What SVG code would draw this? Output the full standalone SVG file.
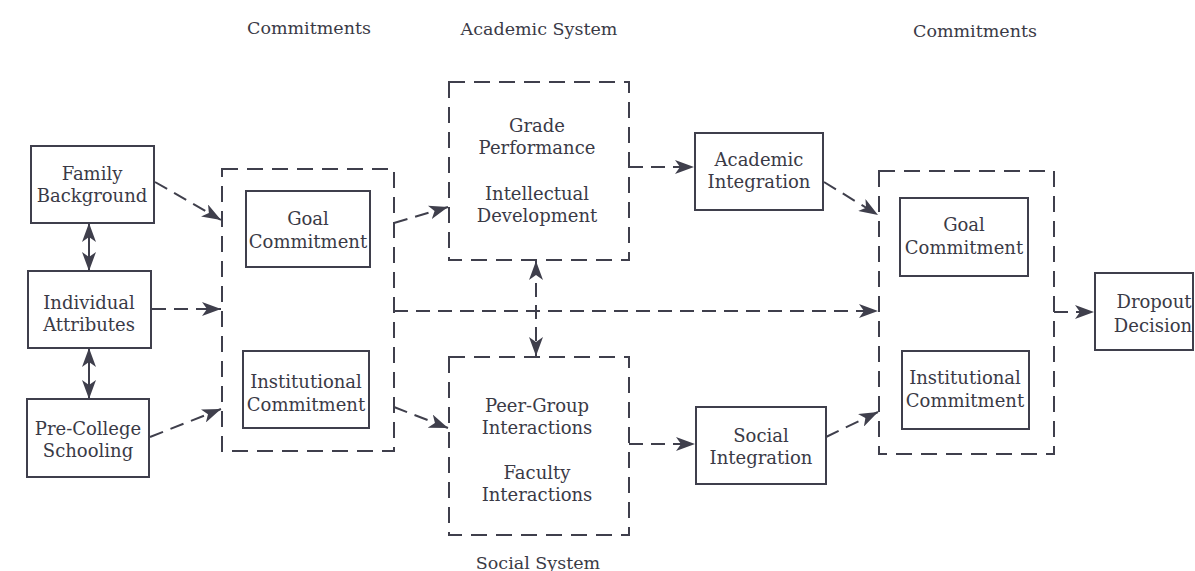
<svg xmlns="http://www.w3.org/2000/svg" width="1195" height="571" viewBox="0 0 1195 571">
<style>
.box{fill:none;stroke:#3f3f4c;stroke-width:2}
.dbox{fill:none;stroke:#3f3f4c;stroke-width:2;stroke-dasharray:16 9}
.con{fill:none;stroke:#3f3f4c;stroke-width:2;stroke-dasharray:14 8}
.sol{fill:none;stroke:#3f3f4c;stroke-width:2}
text{font-family:"DejaVu Serif","Liberation Serif",serif;font-size:18px;fill:#3a3a46;text-anchor:middle;dominant-baseline:central}
.hdr{font-size:17.5px}
</style>
<defs>
<marker id="ah" markerUnits="userSpaceOnUse" markerWidth="20" markerHeight="14" refX="19" refY="7" orient="auto-start-reverse">
<path d="M0,0 L19,7 L0,14 L5,7 Z" fill="#3f3f4c"/>
</marker>
</defs>
<rect width="1195" height="571" fill="#ffffff"/>

<text class="hdr" x="309" y="28">Commitments</text>
<text class="hdr" x="539" y="29">Academic System</text>
<text class="hdr" x="975" y="31">Commitments</text>
<text class="hdr" x="538" y="563">Social System</text>

<g id="family-background">
<rect class="box" x="31" y="146" width="123" height="77"/>
<text x="92" y="173">Family</text>
<text x="92" y="195">Background</text>
</g>
<g id="individual-attributes">
<rect class="box" x="28" y="271" width="123" height="77"/>
<text x="89" y="302">Individual</text>
<text x="89" y="324">Attributes</text>
</g>
<g id="pre-college-schooling">
<rect class="box" x="27" y="399" width="122" height="78"/>
<text x="88" y="428">Pre-College</text>
<text x="88" y="450">Schooling</text>
</g>

<g id="commitments-left">
<rect class="dbox" x="222" y="169" width="172" height="282"/>
</g>
<g id="goal-commitment-left">
<rect class="box" x="246" y="191" width="124" height="76"/>
<text x="308" y="218">Goal</text>
<text x="308" y="241">Commitment</text>
</g>
<g id="institutional-commitment-left">
<rect class="box" x="243" y="351" width="126" height="77"/>
<text x="306" y="381">Institutional</text>
<text x="306" y="404">Commitment</text>
</g>

<g id="academic-system">
<rect class="dbox" x="449" y="82" width="180" height="178"/>
<text x="537" y="125">Grade</text>
<text x="537" y="147">Performance</text>
<text x="537" y="193">Intellectual</text>
<text x="537" y="215">Development</text>
</g>
<g id="social-system">
<rect class="dbox" x="449" y="357" width="180" height="178"/>
<text x="537" y="405">Peer-Group</text>
<text x="537" y="427">Interactions</text>
<text x="537" y="472">Faculty</text>
<text x="537" y="494">Interactions</text>
</g>

<g id="academic-integration">
<rect class="box" x="695" y="133" width="128" height="77"/>
<text x="759" y="159">Academic</text>
<text x="759" y="181">Integration</text>
</g>
<g id="social-integration">
<rect class="box" x="696" y="407" width="130" height="77"/>
<text x="761" y="435">Social</text>
<text x="761" y="457">Integration</text>
</g>

<g id="commitments-right">
<rect class="dbox" x="879" y="171" width="175" height="283"/>
</g>
<g id="goal-commitment-right">
<rect class="box" x="900" y="198" width="128" height="78"/>
<text x="964" y="224">Goal</text>
<text x="964" y="247">Commitment</text>
</g>
<g id="institutional-commitment-right">
<rect class="box" x="902" y="351" width="127" height="78"/>
<text x="965" y="377">Institutional</text>
<text x="965" y="400">Commitment</text>
</g>

<g id="dropout-decision">
<rect class="box" x="1095" y="273" width="98" height="77"/>
<text x="1154" y="301">Dropout</text>
<text x="1153" y="325">Decision</text>
</g>

<g id="connectors">
<line class="sol" x1="89" y1="223" x2="89" y2="271" marker-start="url(#ah)" marker-end="url(#ah)"/>
<line class="sol" x1="89" y1="348" x2="89" y2="399" marker-start="url(#ah)" marker-end="url(#ah)"/>
<line class="con" x1="155" y1="182" x2="221" y2="220" marker-end="url(#ah)"/>
<line class="con" x1="152" y1="309" x2="221" y2="309" marker-end="url(#ah)"/>
<line class="con" x1="150" y1="437" x2="221" y2="409" marker-end="url(#ah)"/>
<line class="con" x1="394" y1="223" x2="448" y2="207" marker-end="url(#ah)"/>
<line class="con" x1="394" y1="407" x2="448" y2="428" marker-end="url(#ah)"/>
<line class="con" x1="394" y1="311" x2="878" y2="311" marker-end="url(#ah)"/>
<line class="con" x1="536" y1="261" x2="536" y2="356" marker-start="url(#ah)" marker-end="url(#ah)"/>
<line class="con" x1="629" y1="167" x2="694" y2="167" marker-end="url(#ah)"/>
<line class="con" x1="629" y1="444" x2="695" y2="444" marker-end="url(#ah)"/>
<line class="con" x1="824" y1="182" x2="878" y2="215" marker-end="url(#ah)"/>
<line class="con" x1="826" y1="437" x2="878" y2="412" marker-end="url(#ah)"/>
<line class="con" x1="1054" y1="312" x2="1094" y2="312" marker-end="url(#ah)"/>
</g>
</svg>
